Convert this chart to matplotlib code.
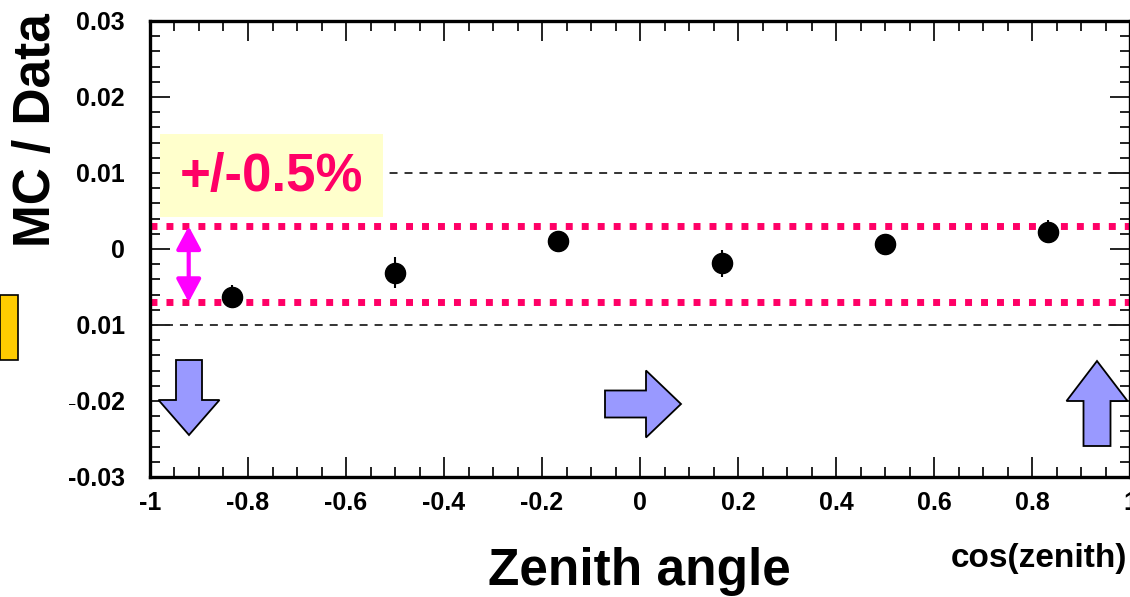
import matplotlib
matplotlib.use("Agg")
import matplotlib.pyplot as plt
import matplotlib.patches as mpatches
import matplotlib.transforms as mtransforms
from matplotlib.ticker import MultipleLocator, FuncFormatter

plt.rcParams['font.family'] = ['Liberation Sans', 'DejaVu Sans']
plt.rcParams['font.weight'] = 'bold'
plt.rcParams['axes.unicode_minus'] = False

# data: MC/Data ratio - 1 per cos(zenith) bin
cos_zenith = [-0.833, -0.5, -0.167, 0.167, 0.5, 0.833]
ratio = [-0.0063, -0.0031, 0.0011, -0.0019, 0.0006, 0.0023]
ratio_err = [0.0015, 0.0020, 0.0012, 0.0018, 0.0014, 0.0015]

ref_lines = [0.01, -0.01]          # black dashed guides
band_center = -0.002               # pink +/-0.5% band
band_half = 0.005

W, H = 1130, 597
fig = plt.figure(figsize=(W / 100, H / 100), dpi=100)
fig.patch.set_facecolor('white')

# pixel coords (origin top-left) -> figure
px = mtransforms.Affine2D().scale(1 / W, -1 / H).translate(0, 1) + fig.transFigure

ax = fig.add_axes([150 / W, 1 - 477 / H, 980 / W, 456 / H])
ax.set_xlim(-1, 1)
ax.set_ylim(-0.03, 0.03)

for y in ref_lines:
    ax.axhline(y, color='#333333', lw=1.4, dashes=(4.1, 3.6), zorder=1)

for y in (band_center + band_half, band_center - band_half):
    ax.axhline(y, color='#ff0066', lw=5, dashes=(1.0, 1.3), solid_capstyle='butt',
               dash_capstyle='butt', zorder=2)

ax.errorbar(cos_zenith, ratio, yerr=ratio_err, fmt='o', color='black',
            markersize=14.5, elinewidth=1.5, capsize=0, zorder=3)

# magenta double arrow spanning the band
ax.add_patch(mpatches.FancyArrowPatch(
    (-0.921, band_center + band_half), (-0.921, band_center - band_half),
    arrowstyle='<|-|>,head_length=14,head_width=7.5', mutation_scale=1,
    color='#ff00ff', lw=3, shrinkA=0, shrinkB=0, zorder=4))

# axis style: ROOT-like, ticks inside on all sides
ax.xaxis.set_major_locator(MultipleLocator(0.2))
ax.xaxis.set_minor_locator(MultipleLocator(0.05))
ax.yaxis.set_major_locator(MultipleLocator(0.01))
ax.yaxis.set_minor_locator(MultipleLocator(0.002))
fmt = FuncFormatter(lambda v, p: '%g' % round(v, 6))
ax.xaxis.set_major_formatter(fmt)
ax.yaxis.set_major_formatter(fmt)
ax.tick_params(which='both', direction='in', top=True, right=True, width=1.4, color='#222222')
ax.tick_params(which='major', length=14.5)
ax.tick_params(which='minor', length=7.5)
ax.tick_params(axis='x', which='major', pad=10, labelsize=18)
ax.tick_params(axis='y', which='major', pad=18, labelsize=18)
for s in ax.spines.values():
    s.set_linewidth(2.4)
    s.set_color('black')

# white slide background behind the vertical label
fig.patches.append(mpatches.Rectangle((0, 0), 76, 404, transform=px,
                                      facecolor='white', edgecolor='none', zorder=5))
fig.patches.append(mpatches.Rectangle((0, 295), 18, 65, transform=px,
                                      facecolor='#ffcc00', edgecolor='black', lw=1.2, zorder=6))
fig.text(37, 130, 'MC / Data', transform=px, rotation=90, fontsize=37,
         fontweight='bold', ha='center', va='center', zorder=7)

# +/-0.5% label box
fig.patches.append(mpatches.Rectangle((160, 134), 223, 83, transform=px,
                                      facecolor='#ffffcc', edgecolor='none', zorder=5))
fig.text(271, 177, '+/-0.5%', transform=px, fontsize=38, fontweight='bold',
         color='#ff0066', ha='center', va='center', zorder=7)


def block_arrow(tip, direction, length, shaft_w, head_w, head_l):
    tx, ty = tip
    ux, uy = direction          # unit vector pointing to tip (pixel coords)
    nx, ny = -uy, ux
    bx, by = tx - ux * head_l, ty - uy * head_l
    ex, ey = tx - ux * length, ty - uy * length
    pts = [(tx, ty),
           (bx + nx * head_w / 2, by + ny * head_w / 2),
           (bx + nx * shaft_w / 2, by + ny * shaft_w / 2),
           (ex + nx * shaft_w / 2, ey + ny * shaft_w / 2),
           (ex - nx * shaft_w / 2, ey - ny * shaft_w / 2),
           (bx - nx * shaft_w / 2, by - ny * shaft_w / 2),
           (bx - nx * head_w / 2, by - ny * head_w / 2)]
    fig.patches.append(mpatches.Polygon(pts, closed=True, transform=px,
                                        facecolor='#9999ff', edgecolor='black',
                                        lw=1.3, zorder=6))


block_arrow((189, 435), (0, 1), 75, 26, 61, 35)
block_arrow((681, 404), (1, 0), 76, 27, 67, 35)
block_arrow((1097, 361), (0, -1), 85, 27, 61, 40)

fig.text(639, 572, 'Zenith angle', transform=px, fontsize=37, fontweight='bold',
         ha='center', va='center')
fig.text(1127, 558, 'cos(zenith)', transform=px, fontsize=24, fontweight='bold',
         ha='right', va='center')

fig.savefig('out.png', dpi=100, facecolor='white')
